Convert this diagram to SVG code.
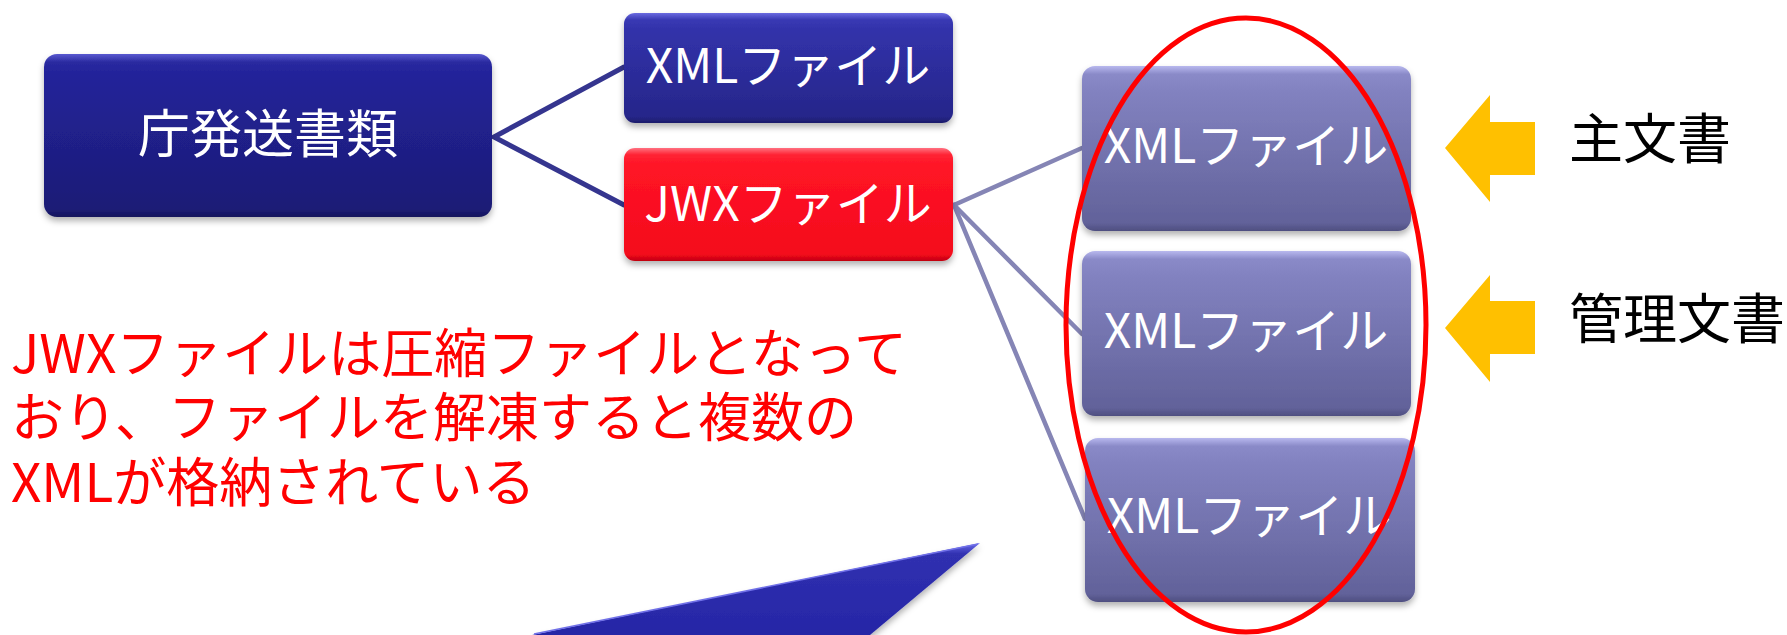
<svg xmlns="http://www.w3.org/2000/svg" width="1787" height="635" viewBox="0 0 1787 635">
<defs>
<style>
.t{font-family:"Noto Sans CJK JP","Noto Sans CJK SC",sans-serif;}
.w{fill:#ffffff;font-size:48px;text-anchor:middle;}
.wb{fill:#ffffff;font-size:52px;text-anchor:middle;}
.k{fill:#000000;font-size:54px;}
.r{fill:#ff0000;font-size:53px;}
.c1{stroke:#35358f;stroke-width:5;fill:none;stroke-linecap:round;}
.c2{stroke:#8585b5;stroke-width:4.5;fill:none;stroke-linecap:round;}
.arrow{fill:#ffc000;}
</style>
<linearGradient id="gNavy" x1="0" y1="0" x2="0" y2="1">
<stop offset="0" stop-color="#5a5ad0"/>
<stop offset="0.05" stop-color="#2a2aa0"/>
<stop offset="0.12" stop-color="#23239a"/>
<stop offset="0.95" stop-color="#1c1c76"/>
<stop offset="1" stop-color="#15155c"/>
</linearGradient>
<linearGradient id="gBlue" x1="0" y1="0" x2="0" y2="1">
<stop offset="0" stop-color="#6a6ae0"/>
<stop offset="0.06" stop-color="#3a3ab4"/>
<stop offset="0.15" stop-color="#3232aa"/>
<stop offset="0.94" stop-color="#26268a"/>
<stop offset="1" stop-color="#1c1c6a"/>
</linearGradient>
<linearGradient id="gRed" x1="0" y1="0" x2="0" y2="1">
<stop offset="0" stop-color="#ff7080"/>
<stop offset="0.06" stop-color="#ff2434"/>
<stop offset="0.15" stop-color="#ff1426"/>
<stop offset="0.94" stop-color="#f40a1c"/>
<stop offset="1" stop-color="#c00010"/>
</linearGradient>
<linearGradient id="gPurple" x1="0" y1="0" x2="0" y2="1">
<stop offset="0" stop-color="#b8b8ee"/>
<stop offset="0.05" stop-color="#8a8ac8"/>
<stop offset="0.15" stop-color="#8282c0"/>
<stop offset="0.95" stop-color="#62629a"/>
<stop offset="1" stop-color="#4e4e80"/>
</linearGradient>
<linearGradient id="gTri" x1="0" y1="0" x2="0" y2="1">
<stop offset="0" stop-color="#6a6ae8"/>
<stop offset="0.12" stop-color="#3030b0"/>
<stop offset="1" stop-color="#2626a6"/>
</linearGradient>
<filter id="sh" x="-10%" y="-10%" width="120%" height="130%">
<feDropShadow dx="0" dy="4" stdDeviation="3" flood-color="#000000" flood-opacity="0.3"/>
</filter>
</defs>
<rect x="0" y="0" width="1787" height="635" fill="#ffffff"/>

<g id="connectors">
<polyline class="c1" points="624,67 494,137 624,205"/>
<line class="c2" x1="954" y1="205" x2="1082" y2="148"/>
<line class="c2" x1="954" y1="205" x2="1082" y2="334"/>
<line class="c2" x1="954" y1="205" x2="1085" y2="519"/>
</g>

<g id="node-root">
<rect x="44" y="54" width="448" height="163" rx="13" fill="url(#gNavy)" filter="url(#sh)"/>
<text class="t wb" x="268" y="153">庁発送書類</text>
</g>

<g id="node-xml-top">
<rect x="624" y="13" width="329" height="110" rx="11" fill="url(#gBlue)" filter="url(#sh)"/>
<text class="t w" x="788" y="83">XMLファイル</text>
</g>

<g id="node-jwx">
<rect x="624" y="148" width="329" height="113" rx="11" fill="url(#gRed)" filter="url(#sh)"/>
<text class="t w" x="788" y="221">JWXファイル</text>
</g>

<g id="node-xml-1">
<rect x="1082" y="66" width="329" height="165" rx="13" fill="url(#gPurple)" filter="url(#sh)"/>
<text class="t w" x="1246" y="163">XMLファイル</text>
</g>

<g id="node-xml-2">
<rect x="1082" y="251" width="329" height="165" rx="13" fill="url(#gPurple)" filter="url(#sh)"/>
<text class="t w" x="1246" y="348">XMLファイル</text>
</g>

<g id="node-xml-3">
<rect x="1085" y="438" width="330" height="164" rx="13" fill="url(#gPurple)" filter="url(#sh)"/>
<text class="t w" x="1249" y="533">XMLファイル</text>
</g>

<g id="ellipse">
<ellipse cx="1246" cy="325" rx="180" ry="307" fill="none" stroke="#ff0000" stroke-width="5"/>
</g>

<g id="arrow-main">
<polygon class="arrow" points="1445,148 1490,95 1490,122 1535,122 1535,175 1490,175 1490,202"/>
<text class="t k" x="1569" y="159">主文書</text>
</g>

<g id="arrow-manage">
<polygon class="arrow" points="1445,328 1490,275 1490,301 1535,301 1535,354 1490,354 1490,382"/>
<text class="t k" x="1569" y="339">管理文書</text>
</g>

<g id="note">
<text class="t r"><tspan x="11" y="373">JWXファイルは圧縮ファイルとなって</tspan><tspan x="11" y="437">おり、ファイルを解凍すると複数の</tspan><tspan x="11" y="502">XMLが格納されている</tspan></text>
</g>

<g id="triangle">
<polygon points="532,635 980,543 870,635" fill="url(#gTri)" filter="url(#sh)"/>
<line x1="534" y1="634" x2="978" y2="544" stroke="#7070e8" stroke-width="1.5"/>
</g>
</svg>
